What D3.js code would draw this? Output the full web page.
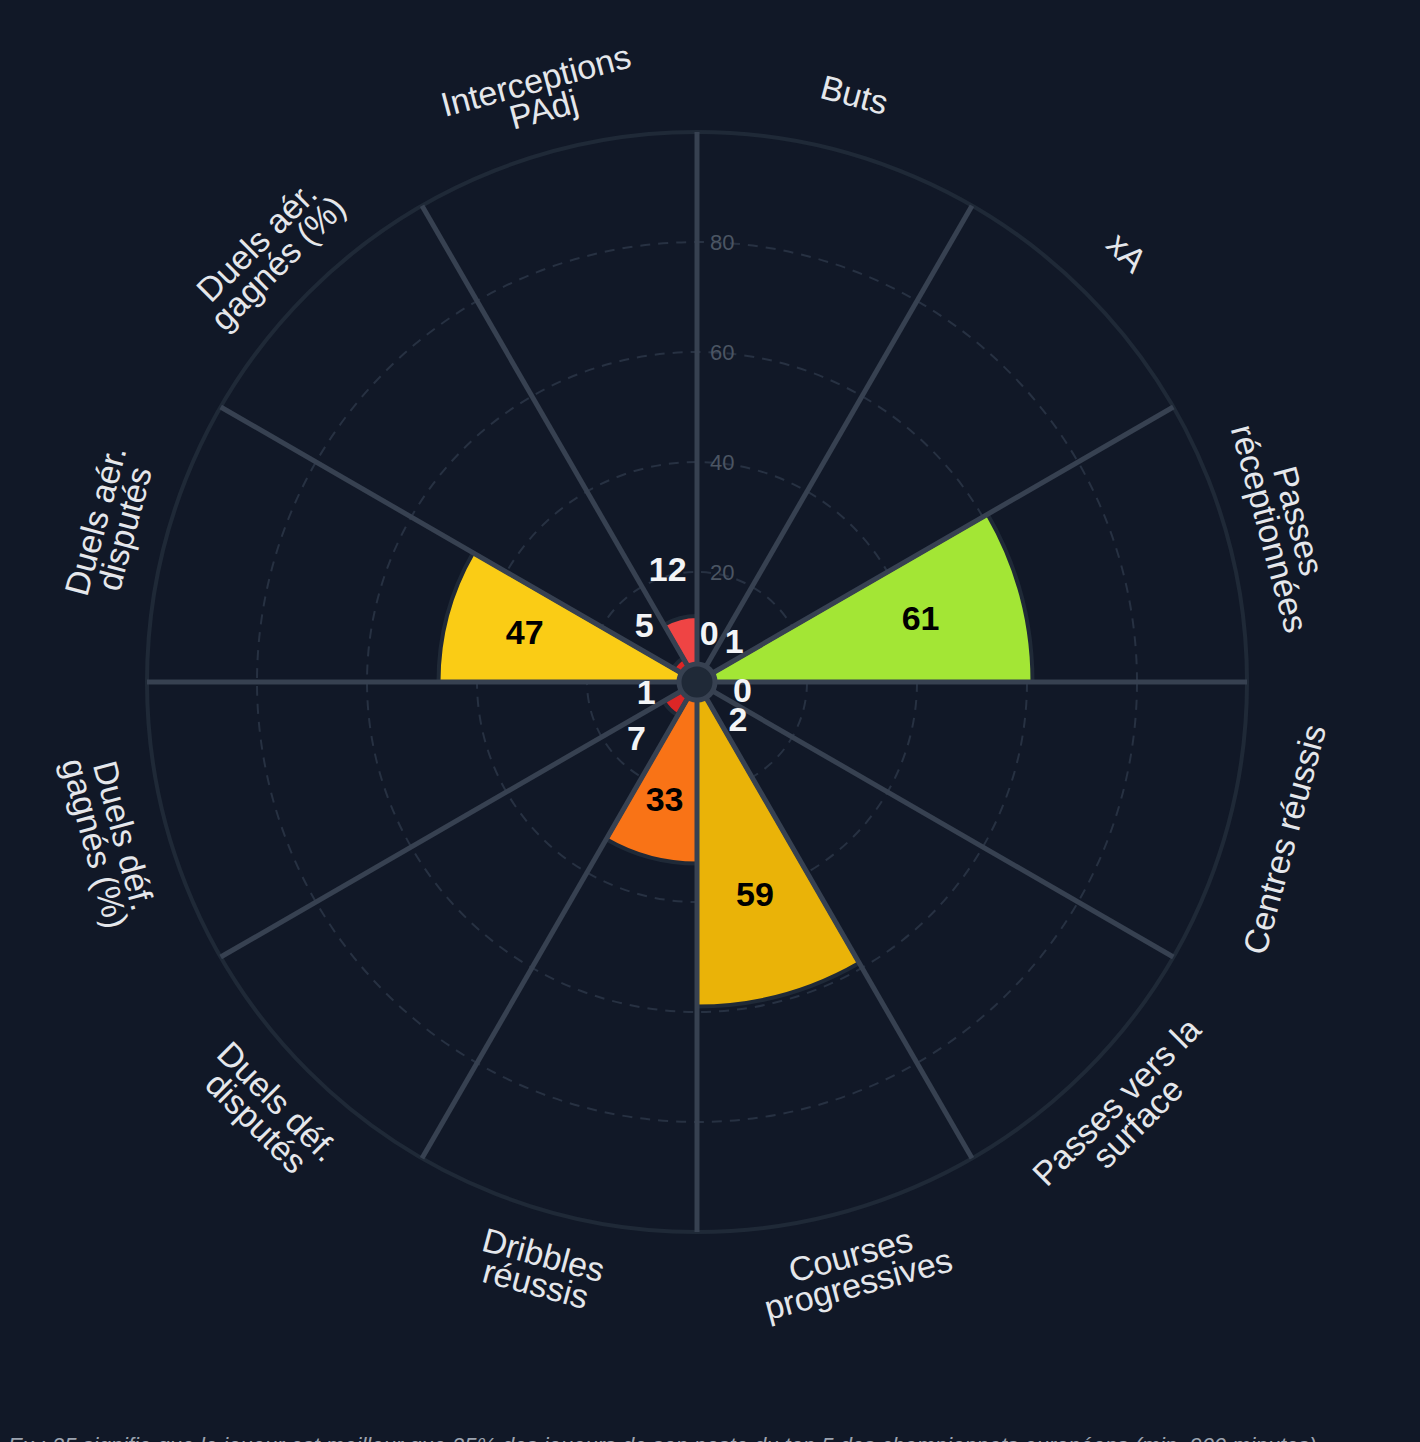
<!DOCTYPE html>
<html>
<head>
<meta charset="utf-8">
<script src="https://cdn.jsdelivr.net/npm/d3@7"></script>
<style>
  body { margin: 0; background: #111827; }
  svg { display: block; font-family: "Liberation Sans", Arial, sans-serif; }
</style>
</head>
<body>
<div class="chart-box"></div>
<script>
// percentiles, clockwise from the top
var categories = ["Buts", "xA", "Passes réceptionnées", "Centres réussis",
  "Passes vers la surface", "Courses progressives", "Dribbles réussis",
  "Duels déf. disputés", "Duels déf. gagnés (%)", "Duels aér. disputés",
  "Duels aér. gagnés (%)", "Interceptions PAdj"];
var values = [0, 1, 61, 0, 2, 59, 33, 7, 1, 47, 5, 12];
var grid_ticks = [20, 40, 60, 80];
var footnote = "Ex : 25 signifie que le joueur est meilleur que 25% des joueurs de son poste du top 5 des championnats européens (min. 900 minutes)";

var width = 1420, height = 1442;
var cx = 697, cy = 682, outer = 550;

var svg = d3.select(".chart-box").append("svg")
    .attr("width", width)
    .attr("height", height);

svg.append("rect").attr("width", width).attr("height", height).attr("fill", "#111827");

var g = svg.append("g")
    .attr("transform", "translate(" + cx + "," + cy + ")");

var ang = d3.scaleBand()
    .domain(categories)
    .range([0, 2 * Math.PI]);
var r = d3.scaleLinear()
    .domain([0, 100])
    .range([0, outer]);
var color = d3.scaleThreshold()
    .domain([10, 20, 40, 50, 60])
    .range(["#dc2626", "#ef4444", "#f97316", "#facc15", "#eab308", "#a3e635"]);

var data = categories.map(function(c, i) { return {cat: c, value: values[i]}; });
function mid(d) { return ang(d.cat) + ang.bandwidth() / 2; }

// dashed rings
g.selectAll(".ring")
    .data(grid_ticks)
  .enter().append("circle")
    .attr("class", "ring")
    .attr("r", function(d) { return r(d); })
    .attr("fill", "none")
    .attr("stroke", "#273142")
    .attr("stroke-width", 2)
    .attr("stroke-dasharray", "10,8");

// bars
var arc = d3.arc()
    .innerRadius(0)
    .outerRadius(function(d) { return r(d.value); })
    .startAngle(function(d) { return ang(d.cat); })
    .endAngle(function(d) { return ang(d.cat) + ang.bandwidth(); });

g.selectAll(".bar")
    .data(data.filter(function(d) { return d.value > 0; }))
  .enter().append("path")
    .attr("class", "bar")
    .attr("d", arc)
    .attr("fill", function(d) { return color(d.value); })
    .attr("stroke", "#1f2937")
    .attr("stroke-width", 4);

// outer circle + spokes
g.append("circle")
    .attr("r", r(100))
    .attr("fill", "none")
    .attr("stroke", "#1f2937")
    .attr("stroke-width", 4);

g.selectAll(".spoke")
    .data(categories)
  .enter().append("line")
    .attr("class", "spoke")
    .attr("x1", 0).attr("y1", 0)
    .attr("x2", function(d) { return r(100) * Math.sin(ang(d)); })
    .attr("y2", function(d) { return -r(100) * Math.cos(ang(d)); })
    .attr("stroke", "#374151")
    .attr("stroke-width", 5);

g.append("circle")
    .attr("r", 18)
    .attr("fill", "#1f2937")
    .attr("stroke", "#374151")
    .attr("stroke-width", 5);

// radial tick labels
g.selectAll(".tick-label")
    .data(grid_ticks)
  .enter().append("text")
    .attr("class", "tick-label")
    .attr("x", 13)
    .attr("y", function(d) { return -r(d); })
    .attr("dominant-baseline", "central")
    .attr("fill", "#4b5563")
    .attr("font-size", 22)
    .text(function(d) { return d; });

// value labels
g.selectAll(".val")
    .data(data)
  .enter().append("text")
    .attr("class", "val")
    .attr("transform", function(d) {
      var lr = d.value < 20 ? r(d.value) + 47 : r(d.value) * 0.69;
      return "translate(" + (lr * Math.sin(mid(d))) + "," + (-lr * Math.cos(mid(d)) - 4) + ")";
    })
    .attr("text-anchor", "middle")
    .attr("dominant-baseline", "central")
    .attr("font-size", 34)
    .attr("font-weight", "bold")
    .attr("fill", function(d) { return d.value < 20 ? "#f3f4f6" : "#000"; })
    .text(function(d) { return d.value; });

// category labels, wrapped at 15 chars
function wrap(s) {
  var words = s.split(" "), lines = [], cur = "";
  words.forEach(function(w) {
    if (cur && (cur + " " + w).length > 15) { lines.push(cur); cur = w; }
    else cur = cur ? cur + " " + w : w;
  });
  lines.push(cur);
  return lines;
}

var lineH = 30, labelR = 608;
var labels = g.selectAll(".cat")
    .data(data)
  .enter().append("text")
    .attr("class", "cat")
    .attr("transform", function(d) {
      var a = mid(d), deg = a * 180 / Math.PI;
      var rot = (deg > 90 && deg < 270) ? deg - 180 : deg;
      return "translate(" + (labelR * Math.sin(a)) + "," + (-labelR * Math.cos(a)) + ") rotate(" + rot + ")";
    })
    .attr("text-anchor", "middle")
    .attr("font-size", 34)
    .attr("fill", "#e5e7eb");

labels.each(function(d) {
  var lines = wrap(d.cat);
  d3.select(this).selectAll("tspan")
      .data(lines)
    .enter().append("tspan")
      .attr("x", 0)
      .attr("y", function(l, i) { return (i - (lines.length - 1) / 2) * lineH; })
      .attr("dominant-baseline", "central")
      .text(function(l) { return l; });
});

svg.append("text")
    .attr("x", 8)
    .attr("y", 1453)
    .attr("font-size", 22)
    .attr("font-style", "italic")
    .attr("fill", "#9ca3af")
    .text(footnote);
</script>
</body>
</html>
